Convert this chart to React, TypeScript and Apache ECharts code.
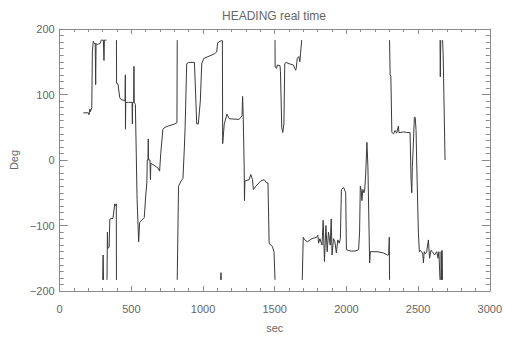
import React, { useEffect, useRef } from "react";
import * as echarts from "echarts";

const chartTitle = "HEADING real time";
const xName = "sec";
const yName = "Deg";
const xRange = [0, 3000];
const yRange = [-200, 200];

// heading traces [sec, deg], split where the heading wraps around ±180
const seg1 = [[165,72],[200,72],[205,69],[210,78],[215,74],[224,80],[228,165],[234,181],[240,178],[248,178],[251,115],[254,178],[262,176],[270,177],[282,178],[290,183],[305,183],[309,152],[312,183],[326,183]];
const seg2 = [[300,-183],[303,-145],[306,-183]];
const seg3 = [[330,-183],[333,-110],[336,-135],[345,-133],[350,-90],[372,-89],[384,-67],[390,-70],[395,-67],[396,-183]];
const seg4 = [[396,183],[397,117],[407,116],[419,95],[430,92],[449,91],[456,90],[458,130],[459,47],[461,88],[480,88],[505,88],[507,55],[509,88],[516,88],[518,143],[520,88],[528,85],[540,-60],[551,-125],[558,-95],[581,-90],[590,-88],[600,-55],[608,-35],[611,0],[616,0],[618,32],[620,0],[630,0],[633,-30],[636,-5],[650,-7],[685,-12],[697,-17],[705,10],[720,47],[735,50],[760,52],[801,55],[818,57],[820,183]];
const seg5 = [[820,-183],[829,-40],[847,-32],[860,-28],[870,20],[875,50],[886,147],[900,149],[940,149],[956,55],[967,55],[981,90],[991,147],[1005,155],[1079,162],[1095,165],[1102,179],[1125,182],[1135,182],[1137,25],[1148,55],[1167,70],[1183,63],[1250,62],[1264,65],[1272,68],[1276,97],[1280,70],[1287,-10],[1289,-62],[1292,-32],[1322,-30],[1333,-22],[1345,-30],[1351,-45],[1368,-40],[1403,-32],[1426,-30],[1444,-35],[1453,-35],[1461,-127],[1472,-130],[1484,-132],[1495,-140],[1502,-183]];
const seg6 = [[1123,-183],[1125,-172],[1127,-183]];
const seg7 = [[1502,183],[1503,142],[1514,140],[1517,145],[1537,144],[1540,135],[1549,50],[1556,42],[1564,55],[1570,147],[1580,149],[1600,147],[1630,145],[1646,137],[1650,140],[1657,155],[1668,158],[1675,150],[1680,162],[1688,183]];
const seg8 = [[1692,-183],[1699,-118],[1710,-122],[1727,-125],[1760,-120],[1792,-118],[1801,-115],[1806,-127],[1815,-120],[1830,-130],[1838,-92],[1847,-155],[1857,-100],[1866,-140],[1875,-110],[1887,-130],[1894,-90],[1900,-145],[1910,-120],[1920,-125],[1930,-142],[1940,-122],[1950,-127],[1958,-120],[1965,-45],[1981,-42],[1990,-47],[1995,-50],[2000,-137],[2030,-139],[2060,-139],[2085,-137],[2092,-110],[2097,-40],[2103,-45],[2108,-62],[2115,-45],[2122,-50],[2127,-48],[2135,-20],[2143,27],[2150,-10],[2162,-157],[2167,-140],[2213,-140],[2259,-142],[2285,-145],[2295,-145],[2299,-118],[2301,-183]];
const seg9 = [[2301,183],[2305,130],[2310,128],[2317,42],[2329,40],[2340,45],[2350,41],[2363,52],[2366,42],[2380,42],[2400,43],[2420,42],[2444,42],[2448,0],[2451,-30],[2456,-50],[2460,-10],[2466,20],[2474,65],[2480,65],[2486,45],[2490,0],[2502,-110],[2509,-140],[2516,-138],[2530,-142],[2534,-145],[2537,-157],[2543,-140],[2550,-143],[2560,-140],[2572,-122],[2580,-150],[2590,-138],[2600,-140],[2615,-145],[2630,-140],[2640,-150],[2645,-140],[2653,-183]];
const seg10 = [[2653,183],[2655,127],[2658,183]];
const seg11 = [[2659,-183],[2661,-140],[2665,-183],[2667,-138],[2670,-183]];
const seg12 = [[2671,183],[2675,160],[2680,100],[2688,0]];

const segments = [seg1, seg2, seg3, seg4, seg5, seg6, seg7, seg8, seg9, seg10, seg11, seg12];

const FONT = "Liberation Sans, Arial, sans-serif";
const AXIS_COLOR = "#8a8a8a";
const TEXT_COLOR = "#666";
const LINE_COLOR = "#3a3a3a";

export default function App() {
  const ref = useRef<HTMLDivElement>(null);
  useEffect(() => {
    if (!ref.current) return;
    const chart = echarts.init(ref.current, undefined, { renderer: "svg" });
    const fmt = (v: number) => (v < 0 ? "\u2212" + Math.abs(v) : String(v));
    const xBase = {
      type: "value" as const,
      min: xRange[0],
      max: xRange[1],
      interval: 500,
      splitLine: { show: false },
      axisLine: { show: true, onZero: false, lineStyle: { color: AXIS_COLOR, width: 1 } },
      axisTick: { show: true, inside: true, length: 5, lineStyle: { color: AXIS_COLOR } },
      minorTick: { show: true, splitNumber: 5, length: 3, lineStyle: { color: AXIS_COLOR } },
      minorSplitLine: { show: false },
    };
    const yBase = {
      type: "value" as const,
      min: yRange[0],
      max: yRange[1],
      interval: 100,
      splitLine: { show: false },
      axisLine: { show: true, onZero: false, lineStyle: { color: AXIS_COLOR, width: 1 } },
      axisTick: { show: true, inside: true, length: 8, lineStyle: { color: AXIS_COLOR } },
      minorTick: { show: true, splitNumber: 10, length: 4, lineStyle: { color: AXIS_COLOR } },
      minorSplitLine: { show: false },
    };
    chart.setOption({
      animation: false,
      backgroundColor: "#fff",
      grid: { left: 58, right: 14, top: 29, bottom: 41, containLabel: false },
      graphic: [
        {
          type: "text",
          x: 274,
          y: 16,
          style: { text: chartTitle, fill: TEXT_COLOR, font: "12px " + FONT, align: "center", verticalAlign: "middle" },
        },
      ],
      xAxis: [
        {
          ...xBase,
          position: "bottom",
          name: xName,
          nameLocation: "middle",
          nameGap: 31,
          nameTextStyle: { color: TEXT_COLOR, fontSize: 11, fontFamily: FONT },
          axisLabel: { show: true, color: TEXT_COLOR, fontSize: 11, fontFamily: FONT, margin: 12, formatter: (v: number) => String(v) },
        },
        { ...xBase, position: "top", axisLabel: { show: false } },
      ],
      yAxis: [
        {
          ...yBase,
          position: "left",
          name: yName,
          nameLocation: "middle",
          nameGap: 37,
          nameRotate: 90,
          nameTextStyle: { color: TEXT_COLOR, fontSize: 11, fontFamily: FONT },
          axisLabel: { show: true, color: TEXT_COLOR, fontSize: 11, fontFamily: FONT, margin: 5, formatter: fmt },
        },
        { ...yBase, position: "right", axisLabel: { show: false } },
      ],
      series: segments.map((seg) => ({
        type: "line",
        data: seg,
        xAxisIndex: 0,
        yAxisIndex: 0,
        showSymbol: false,
        symbol: "none",
        lineStyle: { color: LINE_COLOR, width: 1 },
        silent: true,
        clip: true,
      })),
    });
    return () => chart.dispose();
  }, []);
  return <div ref={ref} style={{ position: "absolute", left: 0, top: 0, width: 505, height: 338 }} />;
}
